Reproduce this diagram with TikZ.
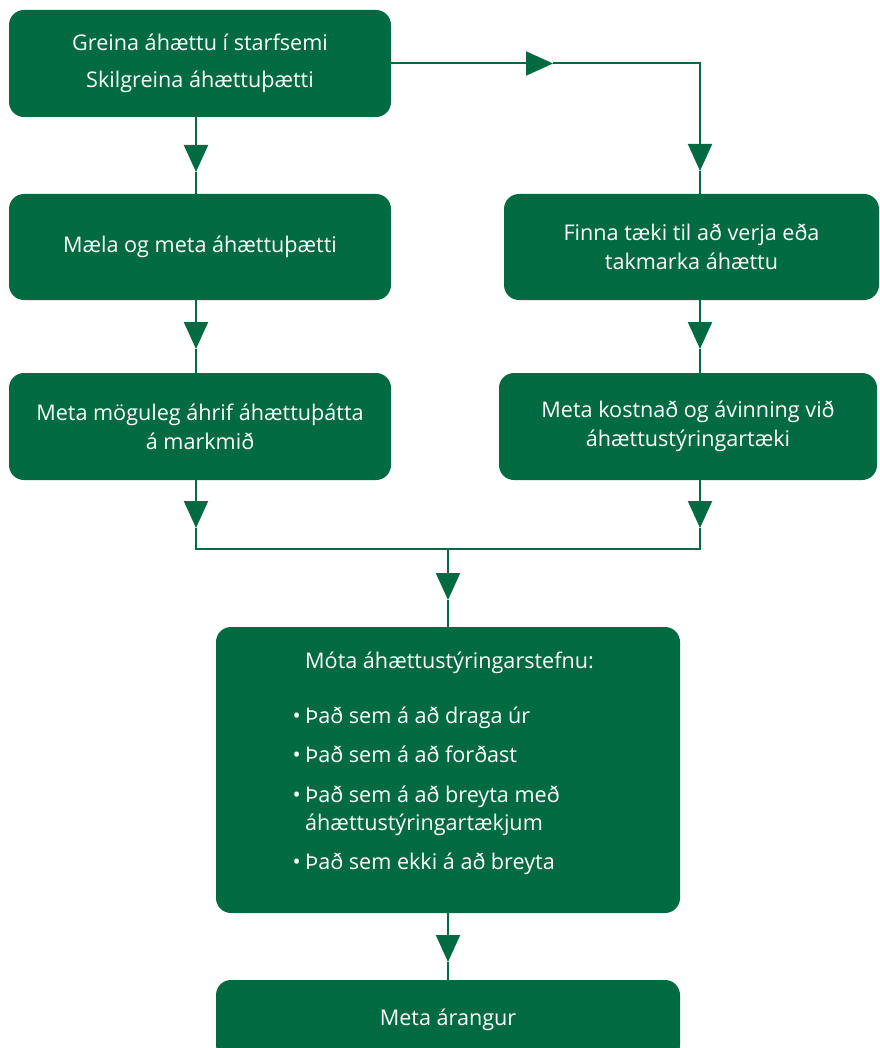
\documentclass[tikz,border=0pt]{standalone}
\usepackage{fontspec}
\setmainfont{Open Sans}
\usetikzlibrary{arrows.meta}
\definecolor{lgreen}{RGB}{0,106,64}
\tikzset{
  box/.style={fill=lgreen, draw=none, rounded corners=15pt, inner sep=0pt, text=white,
    font=\fontsize{21.6}{29}\selectfont, align=center},
  conn/.style={draw=lgreen, line width=2pt},
  arr/.style={conn, -{Triangle[length=27pt,width=24pt]}},
  btext/.style={text=white, font=\fontsize{21.6}{29}\selectfont, anchor=base west, inner sep=0pt},
}
\begin{document}
\begin{tikzpicture}[x=1pt,y=-1pt]
\useasboundingbox (0,0) rectangle (879,1048);
\begin{scope}
\clip (0,0) rectangle (879,1048);
\node[box, minimum width=382pt, minimum height=107pt] (b1) at (200,63.5)
  {Greina áhættu í starfsemi\\[8pt] Skilgreina áhættuþætti};
\node[box, minimum width=382pt, minimum height=106pt] (b2) at (200,247)
  {Mæla og meta áhættuþætti};
\node[box, minimum width=382pt, minimum height=107pt] (b3) at (200,426.5)
  {Meta möguleg áhrif áhættuþátta\\ á markmið};
\node[box, minimum width=375pt, minimum height=106pt] (b4) at (691.5,247)
  {Finna tæki til að verja eða\\ takmarka áhættu};
\node[box, minimum width=378pt, minimum height=107pt] (b5) at (688,426.5)
  {Meta kostnað og ávinning við\\ áhættustýringartæki};
\node[box, minimum width=464pt, minimum height=286pt] (b6) at (448,770) {};
\node[box, minimum width=464pt, minimum height=80pt] (b7) at (448,1020) {Meta árangur};
\end{scope}

% text in b6
\node[btext] (t0) at (305,668) {Móta áhættustýringarstefnu:};
\node[btext] (t1) at (305,723) {Það sem á að draga úr};
\node[btext] (t2) at (305,762) {Það sem á að forðast};
\node[btext] (t3) at (305,802) {Það sem á að breyta með};
\node[btext] (t3b) at (305,830) {áhættustýringartækjum};
\node[btext] (t4) at (305,869) {Það sem ekki á að breyta};
\foreach \n in {t1,t2,t3,t4}{
  \node[btext, anchor=base east] at ([xshift=-4pt]\n.base west) {•};
}

% coordinates
\coordinate (xl) at (196,0);
\coordinate (xr) at (700,0);
\coordinate (xm) at (448,0);
\coordinate (a1) at (196,172);
\coordinate (a2) at (196,349);
\coordinate (a3) at (196,528);
\coordinate (a4) at (700,171);
\coordinate (a5) at (700,349);
\coordinate (a6) at (700,528);
\coordinate (h1) at (553,63.5);
\coordinate (k1) at (700,63.5);
\coordinate (jl) at (196,549);
\coordinate (jr) at (700,549);
\coordinate (jm) at (448,549);
\coordinate (a7) at (448,600);
\coordinate (a8) at (448,962);

% connectors
\draw[arr] (b1.south -| xl) -- (a1);
\draw[conn] (a1) -- (b2.north -| xl);
\draw[arr] (b2.south -| xl) -- (a2);
\draw[conn] (a2) -- (b3.north -| xl);

\draw[arr] (b1.east) -- (h1);
\draw[arr] (h1) -- (k1) -- (a4);
\draw[conn] (a4) -- (b4.north -| xr);
\draw[arr] (b4.south -| xr) -- (a5);
\draw[conn] (a5) -- (b5.north -| xr);

\draw[arr] (b3.south -| xl) -- (a3);
\draw[arr] (b5.south -| xr) -- (a6);
\draw[conn] (a3) -- (jl) -- (jr) -- (a6);
\draw[arr] (jm) -- (a7);
\draw[conn] (a7) -- (b6.north -| xm);
\draw[arr] (b6.south -| xm) -- (a8);
\draw[conn] (a8) -- (b7.north -| xm);
\end{tikzpicture}
\end{document}
